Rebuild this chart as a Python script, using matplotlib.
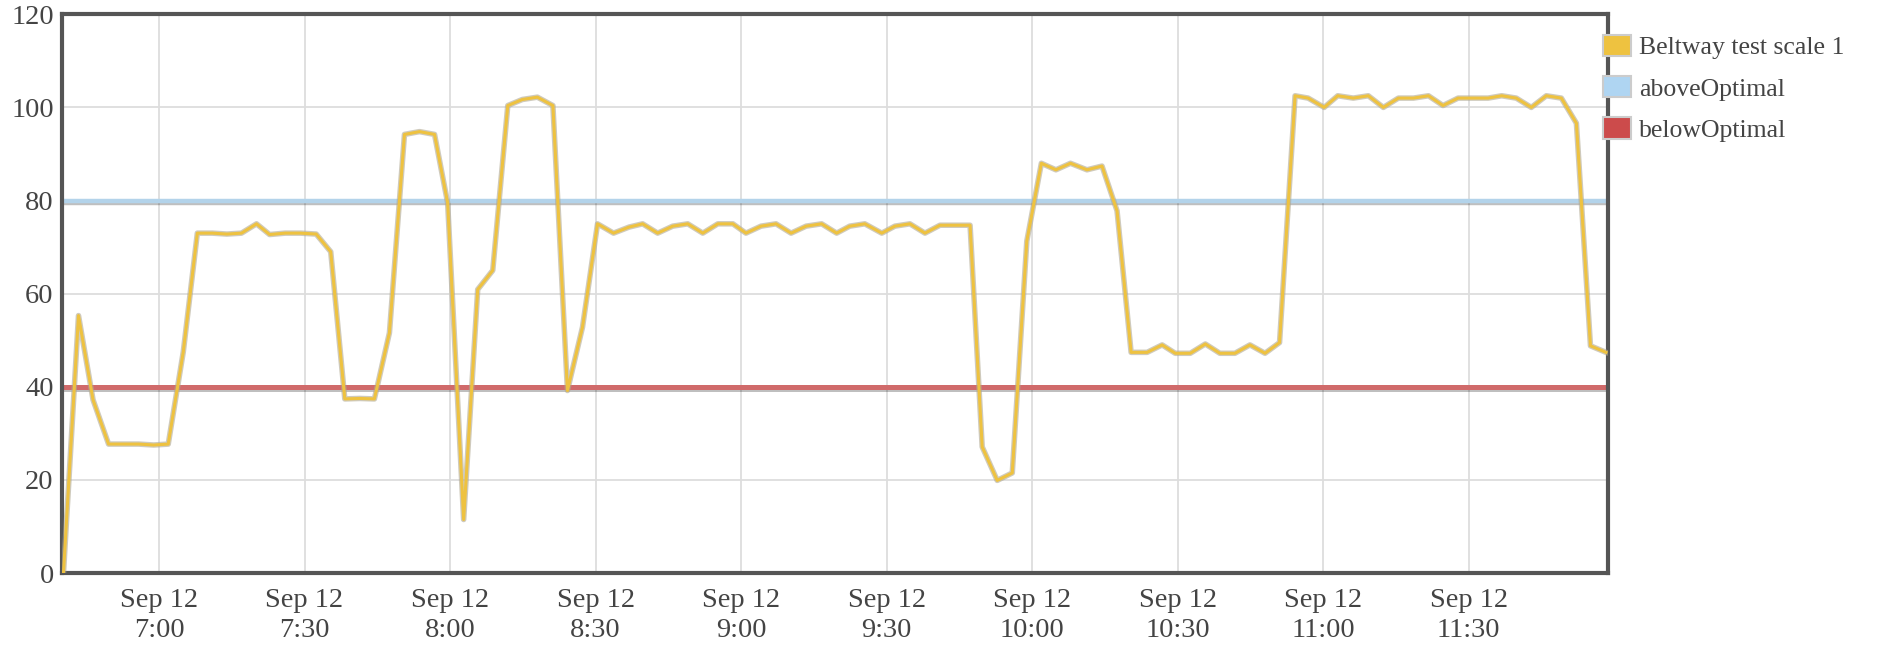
import datetime as dt
import matplotlib
matplotlib.use("Agg")
import matplotlib.pyplot as plt
import matplotlib.patheffects as pe
from matplotlib.patches import Patch

# minutes after 6:40 on Sep 12
minutes = [0.3, 3.4, 6.4, 9.6, 12.7, 15.8, 18.9, 21.9, 25.0, 27.9,
           31.0, 34.0, 37.0, 40.1, 42.8, 46.0, 49.2, 52.4, 55.4, 58.3,
           61.4, 64.4, 67.5, 70.6, 73.7, 76.8, 79.5, 82.8, 85.7, 88.8,
           91.9, 94.9, 98.0, 101.2, 104.2, 107.3, 110.4, 113.7, 116.9, 119.7,
           122.8, 125.9, 129.0, 132.1, 135.2, 138.3, 141.0, 144.1, 147.2, 150.3,
           153.4, 156.6, 159.7, 162.4, 165.5, 169.0, 171.7, 174.8, 177.9, 181.0,
           184.1, 187.2, 189.7, 192.8, 195.9, 198.9, 201.9, 204.9, 207.9, 211.3,
           214.4, 217.5, 220.4, 223.7, 226.8, 229.5, 232.6, 235.7, 238.7, 241.8,
           244.9, 248.0, 251.0, 254.2, 256.9, 260.2, 263.0, 266.2, 269.3, 272.4,
           275.5, 278.6, 281.7, 284.7, 287.8, 291.0, 294.0, 296.8, 299.8, 302.9,
           306.0, 309.1, 312.2, 315.1, 318.3]

beltway = [0, 55.3, 37.2, 27.7, 27.7, 27.7, 27.5, 27.7, 47.5, 73,
           73, 72.8, 73, 75, 72.7, 73, 73, 72.8, 69, 37.4,
           37.5, 37.4, 51.6, 94.2, 94.8, 94.2, 79.5, 11.5, 60.9, 65,
           100.4, 101.7, 102.2, 100.4, 39.2, 52.8, 75, 73, 74.3, 75,
           73, 74.5, 75, 73, 75, 75, 73, 74.5, 75, 73,
           74.5, 75, 73, 74.5, 75, 73, 74.5, 75, 73, 74.7,
           74.7, 74.7, 27.1, 19.9, 21.5, 71.3, 88, 86.6, 88, 86.6,
           87.4, 77.8, 47.4, 47.4, 49, 47.2, 47.2, 49.2, 47.2, 47.2,
           49, 47.2, 49.5, 102.5, 102, 100, 102.5, 102, 102.5, 100,
           102, 102, 102.5, 100.4, 102, 102, 102, 102.5, 102, 100,
           102.5, 102, 96.6, 48.8, 47.4]

above_optimal = 80
below_optimal = 40
series_names = ["Beltway test scale 1", "aboveOptimal", "belowOptimal"]
series_colors = ["#eec240", "#afd5f2", "#cc4b4b"]

start = dt.datetime(2012, 9, 12, 6, 40)
times = [start + dt.timedelta(minutes=m) for m in minutes]
x_end = start + dt.timedelta(minutes=318.8)

plt.rcParams["font.family"] = ["Liberation Serif", "DejaVu Serif"]

fig = plt.figure(figsize=(18.79, 6.49), dpi=100)
ax = fig.add_axes([0.033, 0.117, 0.823, 0.861])

shadow = [pe.SimpleLineShadow(offset=(0, -1.5), alpha=0.25), pe.Normal()]
ax.axhline(above_optimal, color="#b3d3ea", linewidth=3.2, path_effects=shadow, zorder=2)
ax.axhline(below_optimal, color="#d06a6a", linewidth=3.6, path_effects=shadow, zorder=2)
ax.plot(times, beltway, color="#eec240", linewidth=2.2,
        path_effects=[pe.Stroke(linewidth=4, foreground="#b0a890", alpha=0.6), pe.Normal()],
        zorder=3)

ax.set_xlim(start, x_end)
ax.set_ylim(0, 120)
ax.set_yticks(range(0, 121, 20))

ticks = [dt.datetime(2012, 9, 12, 7, 0) + dt.timedelta(minutes=30 * i) for i in range(10)]
ax.set_xticks(ticks)
ax.set_xticklabels([t.strftime("%b %d") + "\n" + f"{t.hour}:{t.minute:02d}" for t in ticks],
                   linespacing=1.25)

ax.grid(True, color="#dddddd", linewidth=1.3)
ax.set_axisbelow(True)
ax.tick_params(length=0, labelsize=20.5, colors="#444444")
ax.tick_params(axis="x", pad=11)
ax.tick_params(axis="y", pad=6)
for s in ax.spines.values():
    s.set_color("#555555")
    s.set_linewidth(3)

handles = [Patch(facecolor=c, edgecolor="#cccccc", linewidth=1.5) for c in series_colors]
fig.legend(handles, series_names, loc="upper left", bbox_to_anchor=(0.8475, 0.962),
           frameon=False, fontsize=18.5, labelcolor="#444444",
           handlelength=1.1, handleheight=0.9, handletextpad=0.3, labelspacing=0.65,
           borderaxespad=0)

fig.savefig("out.png", dpi=100)
